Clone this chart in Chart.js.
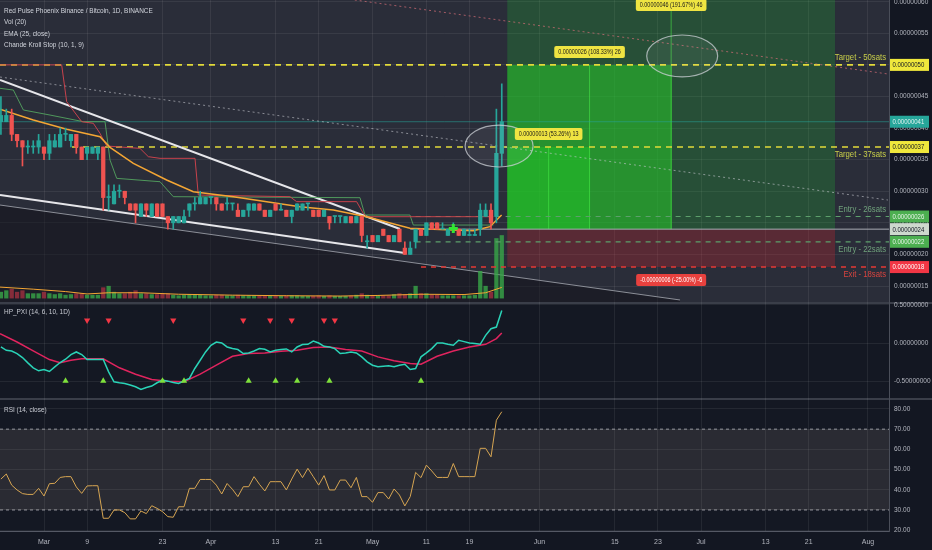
<!DOCTYPE html>
<html><head><meta charset="utf-8">
<script src="https://cdn.jsdelivr.net/npm/chart.js@4.4.1/dist/chart.umd.min.js"></script>
<style>
html,body{margin:0;padding:0;background:#131722;overflow:hidden}
#wrap{position:relative;width:932px;height:550px}
canvas{position:absolute;left:0;display:block}
</style></head><body>
<div id="wrap">
<canvas id="cMain" width="932" height="302" style="top:0;width:932px;height:302px"></canvas>
<canvas id="cHp" width="932" height="96" style="top:302px;width:932px;height:96px"></canvas>
<canvas id="cRsi" width="932" height="152" style="top:398px;width:932px;height:152px"></canvas>
</div>
<script>
const FONT = '"Liberation Sans", Arial, sans-serif';
Chart.defaults.font.family = FONT;

// ---------- axes ----------
const X_MIN = -8.17, X_MAX = 156.9;           // day index, 0 = 1 Mar
const xTickDays   = [0, 8, 22, 31, 43, 51, 61, 71, 79, 92, 106, 114, 122, 134, 142, 153];
const xTickLabels = ['Mar','9','23','Apr','13','21','May','11','19','Jun','15','23','Jul','13','21','Aug'];
const priceTicks = [15, 20, 25, 30, 35, 40, 45, 50, 55, 60];   // satoshis
const hpTicks = [0.5, 0, -0.5];
const rsiTicks = [20, 30, 40, 50, 60, 70, 80];

// ---------- candles (satoshis) ----------
const candleDays = [-8,-7,-6,-5,-4,-3,-2,-1,0,1,2,3,4,5,6,7,8,9,10,11,12,13,14,15,16,17,18,19,20,21,22,23,24,25,26,27,28,29,30,31,32,33,34,35,36,37,38,39,40,41,42,43,44,45,46,47,48,49,50,51,52,53,54,55,56,57,58,59,60,61,62,63,64,65,66,67,68,69,70,71,72,73,74,75,76,77,78,79,80,81,82,83,84,85];
const open  = [41,41,42,39,38,37,37,37,37,36, 37,37,39,38,39,37,36,36,36,37, 29,28,30,30,28,28,26,28,26,28, 28,26,25,25,25,27,28,28,28,29, 29,28,28,28,27,26,27,27,28,27, 26,28,27,27,26,27,27,28,27,27, 26,26,26,26,25,26,25,26,22,23, 22,24,23,22,24,21,20,22,24,23, 25,25,24,23,24,24,23,23,23,24, 26,27,26,36];
const high  = [45,43,43,39,38,38,38,39,37,39, 39,40,40,39,39,37,37,37,37,37, 31,31,31,30,28,28,28,28,28,28, 28,26,26,26,27,28,29,30,29,29, 29,28,29,28,28,27,28,28,28,27, 27,28,28,27,27,28,28,28,27,27, 27,26,26,26,26,26,26,26,23,23, 23,24,23,23,24,22,22,24,24,25, 25,25,25,24,25,24,24,24,24,28, 28,28,43,47];
const low   = [39,41,38,37,34,36,36,36,35,35, 37,37,38,37,36,35,35,36,35,27, 27,28,29,28,27,25,26,26,26,26, 26,24,24,25,25,26,27,28,28,28, 27,27,27,27,26,26,26,27,27,26, 26,27,27,26,25,27,27,27,26,26, 26,24,25,25,25,25,25,22,21,22, 22,23,22,22,22,20,20,21,23,23, 24,24,24,23,24,23,23,23,23,23, 26,24,25,34];
const close = [42,42,39,38,37,37,37,38,36,38, 38,39,39,39,37,35,37,37,37,29, 29,30,30,29,27,27,28,27,28,26, 26,25,26,26,26,28,28,29,29,29, 28,27,28,28,26,27,28,28,27,26, 27,27,27,26,27,28,28,28,26,26, 27,25,26,26,26,25,26,23,22,22, 23,23,22,23,22,20,21,24,23,25, 24,24,24,24,24,23,24,23,23,27, 27,25,36,41];
const volume = [2,2.5,3,2,2.5,1.5,1.5,1.5,2,1.5, 1.2,1.5,1,1.2,1.5,1.5,1,1,1,3.5, 4,2,1.5,1.5,2,2.5,1.5,1.5,1.2,1.2, 1.5,1.5,1,0.8,1,1.2,1,1,0.8,0.8, 1,1,0.8,0.8,1,0.8,0.8,0.8,0.8,0.8, 0.8,0.8,0.6,0.8,0.8,0.8,0.6,0.6,0.6,0.8, 0.6,0.8,0.6,0.6,0.6,0.8,1,1.5,1,0.8, 0.8,0.8,0.8,1.2,1.5,1.2,1.5,4,1.5,1.5, 1,1,0.8,0.8,0.8,0.8,0.8,0.8,1,9, 4,2,20,21];
const volMaDays = [-8.17,-2,4,8,12,18,25,35,45,55,62,70,78,82,85];
const volMa     = [3.7,3.0,2.2,1.4,1.8,1.8,1.3,1.0,0.8,0.7,0.9,1.3,1.2,1.8,3.6];

// ---------- EMA 25 / Chande Kroll Stop ----------
const emaDays = [-8.17,-1.98,4.21,10.40,12.26,16.59,22.77,27.73,35.16,41.35,47.53,53.72,59.91,67.95,72.28,79.71,82.80,84.97];
const ema     = [42.97,41.28,39.80,38.64,36.95,34.42,31.78,29.93,29.14,28.35,27.56,27.03,25.97,24.13,23.97,23.76,24.39,26.24];
const cksShortDays = [-8.17,3.28,4.21,7.00,9.16,10.40,11.64,17.82,19.37,21.54,28.04,28.65,45.67,46.91,58.05,59.29,59.91,83.43];
const cksShort     = [50,50,44.18,41.01,40.75,39.16,37.16,36.79,35.47,35.21,35.21,29.40,29.14,28.35,28.35,26.50,25.97,25.97];
const cksLongDays  = [-8.17,-5.69,-3.83,1.12,7.31,11.33,12.26,13.50,21.54,24.01,58.67,59.60,67.95,68.57,83.43];
const cksLong      = [46.29,46.02,42.86,42.06,41.01,41.01,34.94,32.04,31.51,29.14,28.98,26.24,26.24,24.65,24.65];

// ---------- HP_PXI ----------
const hpPxi = [-0.048,-0.091,-0.100,-0.134,-0.186,-0.255,-0.320,-0.359,-0.342,-0.368,
 -0.307,-0.251,-0.208,-0.147,-0.113,-0.147,-0.212,-0.212,-0.212,-0.212,
 -0.372,-0.502,-0.515,-0.524,-0.545,-0.567,-0.602,-0.576,-0.558,-0.515,
 -0.481,-0.494,-0.511,-0.524,-0.489,-0.459,-0.329,-0.221,-0.113,-0.026,
 0.017,0.004,-0.048,-0.069,-0.082,-0.134,-0.126,-0.100,-0.069,-0.078,
 -0.113,-0.091,-0.082,-0.074,-0.113,-0.048,-0.017,-0.013,0.030,0.004,
 -0.039,-0.048,-0.069,-0.134,-0.126,-0.113,-0.126,-0.177,-0.242,-0.286,
 -0.307,-0.299,-0.294,-0.307,-0.286,-0.273,-0.342,-0.329,-0.177,-0.126,
 -0.069,0.004,0.004,-0.013,-0.026,0.039,0.022,0.004,-0.004,-0.013,
 0.104,0.190,0.212,0.429];
const hpSigDays = [-8.17,-5,-2,1,3,5,7,11,14,17,20,23,26,29,32,35,38,41,44,47,50,53,56,59,62,65,68,70,73,76,79,82,84,85];
const hpSig     = [0.126,0.017,-0.100,-0.212,-0.255,-0.221,-0.203,-0.203,-0.320,-0.403,-0.472,-0.494,-0.502,-0.403,-0.286,-0.169,-0.134,-0.126,-0.104,-0.091,-0.056,-0.048,-0.082,-0.100,-0.177,-0.229,-0.264,-0.273,-0.169,-0.100,-0.048,-0.013,0.061,0.134];
const hpSellDays = [8, 12, 24, 37, 42, 46, 52, 54];
const hpBuyDays  = [4, 11, 22, 26, 38, 43, 47, 53, 70];

// ---------- RSI ----------
const rsi = [45.3,47.8,42.3,39.9,38.1,37.7,37.7,40.7,36.9,43.0,
 43.2,46.1,46.5,46.5,41.4,38.2,41.9,42.0,42.0,25.9,
 25.9,30.0,30.0,28.7,25.6,25.6,29.5,28.2,32.1,30.8,
 29.2,26.7,26.4,31.6,31.6,40.7,40.7,45.1,45.1,45.1,
 42.3,37.9,43.1,40.2,36.6,41.5,41.5,46.5,42.7,39.4,
 44.0,44.0,44.0,39.9,45.3,50.2,46.0,50.6,46.5,42.3,
 47.0,39.9,39.9,44.8,44.8,41.0,46.1,36.6,36.6,33.8,
 38.6,38.6,35.4,40.4,37.4,32.0,36.6,48.6,46.0,52.2,
 49.3,46.1,46.1,46.1,53.0,46.5,46.5,46.5,46.5,60.5,
 60.5,56.3,74.4,78.6];
const rsiBands = [70, 30];

// ---------- drawings ----------
const levelValues    = [50, 37, 26, 22, 18, 24, 41];
const levelStartDays = [-8.17, 5.2, 69, 69, 70, 68, -8.17];
const wedgeUpper  = [[-8.17, 47.61], [66.1, 24.03]];
const wedgeLower  = [[-8.17, 29.41], [67.0, 20.23]];
const channelLine = [[-8.17, 27.82], [118.1, 12.79]];
const dottedGray  = [[-8.17, 48.08], [156.7, 28.61]];
const dottedRed   = [[57.7, 60.27], [156.7, 48.56]];
const crossMark   = [[76, 24.1]];
const posEntry = 24, posStop = 18, posStart = 86.0;
const posTargets = [37, 50, 70];
const posEnds    = [101.4, 116.6, 146.9];
const posLabels  = ['0.00000013 (53.26%) 13', '0.00000026 (108.33%) 26', '0.00000046 (191.67%) 46'];
const stopLabel  = '-0.00000006 (-25.00%) -6';
const ellipseCenters = [[84.5, 37.16], [118.5, 51.41]];
const ellipseRadii   = [[6.31, 3.32], [6.59, 3.32]];
const sideLabels = [['Target - 50sats', 50, -1], ['Target - 37sats', 37, 1], ['Entry - 26sats', 26, -1], ['Entry - 22sats', 22, 1], ['Exit - 18sats', 18, 1]];
const badgeValues = [50, 41, 37, 26, 22, 24, 18];
const legendLines = ['Red Pulse Phoenix Binance / Bitcoin, 1D, BINANCE', 'Vol (20)', 'EMA (25, close)', 'Chande Kroll Stop (10, 1, 9)'];

// ---------- helpers ----------
const UP = '#26a69a', DN = '#ef5350';
const isUp = candleDays.map((_, i) => close[i] >= open[i]);
const pts = (xs, ys) => xs.map((x, i) => ({x, y: ys[i]}));
const seg = a => a.map(([x, y]) => ({x, y}));
const lineDs = (data, color, width, extra) => Object.assign({type: 'line', data, borderColor: color, borderWidth: width, pointRadius: 0, fill: false, tension: 0, yAxisID: 'y'}, extra || {});

function drawText(ctx, s, x, y, size, color, align, sx) {
  ctx.save();
  ctx.font = size + 'px ' + FONT;
  ctx.fillStyle = color; ctx.textAlign = align || 'left'; ctx.textBaseline = 'middle';
  ctx.translate(x, y); ctx.scale(sx || 0.86, 1); ctx.fillText(s, 0, 0);
  ctx.restore();
}
function textW(ctx, s, size, sx) { ctx.save(); ctx.font = size + 'px ' + FONT; const w = ctx.measureText(s).width * (sx || 0.86); ctx.restore(); return w; }
function tag(ctx, s, cx, top, bg, fg, size) {
  const w = textW(ctx, s, size) + 8, h = 12;
  ctx.save(); ctx.fillStyle = bg; ctx.beginPath(); ctx.roundRect(cx - w / 2, top, w, h, 2); ctx.fill(); ctx.restore();
  drawText(ctx, s, cx, top + h / 2 + 0.5, size, fg, 'center');
}

function xAxis(showLabels) {
  return {
    type: 'linear', min: X_MIN, max: X_MAX, offset: false, bounds: 'data',
    grid: {color: 'rgba(255,255,255,0.07)', drawTicks: false, offset: false},
    border: {display: false},
    ticks: {display: showLabels, autoSkip: false, maxRotation: 0, padding: 7, color: '#b2b5be', font: {size: 7},
      callback: (v, i) => xTickLabels[i]},
    afterBuildTicks: s => { s.ticks = xTickDays.map(v => ({value: v})); },
    afterFit: s => { s.height = showLabels ? 19 : 0; s.paddingLeft = 0; s.paddingRight = 0; }
  };
}
function yAxis(min, max, ticks, fmt, gridColor) {
  return {
    type: 'linear', position: 'right', min, max, bounds: 'data',
    grid: {color: gridColor || 'rgba(255,255,255,0.07)', drawTicks: false},
    border: {display: true, color: '#4a4e59'},
    ticks: {autoSkip: false, padding: 5, color: '#b2b5be', font: {size: 6.5}, callback: fmt},
    afterBuildTicks: s => { s.ticks = ticks.map(v => ({value: v})); },
    afterFit: s => { s.width = 43; s.paddingTop = 0; s.paddingBottom = 0; }
  };
}
const baseOpts = {responsive: false, animation: false, events: [], layout: {padding: 0, autoPadding: false},
  plugins: {legend: {display: false}, tooltip: {enabled: false}}};

function paneBg(color, title, titleY, sepTop, sepBottom) {
  return {
    id: 'bg',
    beforeDraw(chart) {
      const {ctx, chartArea: a, width, height} = chart;
      ctx.save();
      ctx.fillStyle = '#131722'; ctx.fillRect(0, 0, width, height);
      ctx.fillStyle = color; ctx.fillRect(a.left, a.top, a.right - a.left, a.bottom - a.top);
      if (sepTop) { ctx.fillStyle = '#3a3e49'; ctx.fillRect(0, 0, width, 2); }
      ctx.restore();
    },
    afterDraw(chart) {
      const {ctx, chartArea: a} = chart;
      if (sepBottom) { ctx.save(); ctx.fillStyle = '#555965'; ctx.fillRect(0, a.bottom, a.right, 1); ctx.restore(); }
      if (title) drawText(ctx, title, 4, titleY, 7.5, '#c8cbd3', 'left');
    }
  };
}

// ---------- main chart ----------
const levelStyles = [
  {c: '#e2da3a', w: 1.6, d: [6, 5]}, {c: '#e2da3a', w: 1.6, d: [6, 5]},
  {c: '#5c9f6b', w: 1.2, d: [5, 5]}, {c: '#5c9f6b', w: 1.2, d: [5, 5]},
  {c: '#e53935', w: 1.4, d: [5, 5]}, {c: '#a9acb4', w: 1, d: []}, {c: 'rgba(38,166,154,0.55)', w: 1, d: []}
];
const boxFills = ['rgba(20,210,20,0.45)', 'rgba(40,200,40,0.55)', 'rgba(30,200,50,0.22)'];

const mainDatasets = [
  {type: 'bar', data: candleDays.map((d, i) => ({x: d, y: [open[i], close[i]]})), backgroundColor: isUp.map(u => u ? UP : DN), barThickness: 3.6, minBarLength: 1, grouped: false, order: 10, yAxisID: 'y'},
  {type: 'bar', data: candleDays.map((d, i) => ({x: d, y: [low[i], high[i]]})), backgroundColor: isUp.map(u => u ? UP : DN), barThickness: 1, grouped: false, order: 11, yAxisID: 'y'},
  lineDs(seg(crossMark), '#33e633', 0, {showLine: false, pointStyle: 'cross', pointRadius: 4.5, pointBorderWidth: 3, pointBorderColor: '#33e633', order: 5}),
  lineDs(pts(emaDays, ema), '#f4a634', 1.5, {order: 30}),
  lineDs(pts(cksShortDays, cksShort), '#c8424c', 1, {order: 32}),
  lineDs(pts(cksLongDays, cksLong), 'rgba(86,170,98,0.85)', 1, {order: 33}),
  lineDs(seg(wedgeUpper), '#e6e6ea', 2, {order: 40}),
  lineDs(seg(wedgeLower), '#e6e6ea', 2, {order: 41}),
  lineDs(seg(dottedGray), 'rgba(200,202,208,0.6)', 1, {borderDash: [2, 3], order: 42}),
  lineDs(seg(dottedRed), 'rgba(215,110,120,0.7)', 1, {borderDash: [2, 3], order: 43}),
  ...levelValues.map((v, i) => lineDs([{x: levelStartDays[i], y: v}, {x: X_MAX, y: v}], levelStyles[i].c, levelStyles[i].w, {borderDash: levelStyles[i].d, order: 50 + i})),
  ...posEnds.map((e, i) => lineDs([{x: (posStart + e) / 2, y: posEntry}, {x: (posStart + e) / 2, y: posTargets[i]}], 'rgba(70,230,70,0.6)', 1, {order: 65})),
  lineDs(pts(volMaDays, volMa), '#f4a634', 1, {yAxisID: 'yVol', order: 70}),
  {type: 'bar', data: candleDays.map((d, i) => ({x: d, y: volume[i]})), backgroundColor: isUp.map(u => u ? 'rgba(56,168,72,0.8)' : 'rgba(170,50,65,0.75)'), barThickness: 3.6, grouped: false, order: 72, yAxisID: 'yVol'},
  lineDs([{x: posStart, y: posStop}, {x: posEnds[2], y: posStop}], 'rgba(0,0,0,0)', 1, {fill: {value: posEntry}, backgroundColor: 'rgba(200,35,45,0.3)', order: 80}),
  ...posTargets.map((t, i) => lineDs([{x: posStart, y: t}, {x: posEnds[i], y: t}], 'rgba(0,0,0,0)', 1, {fill: {value: posEntry}, backgroundColor: boxFills[i], order: 83 - i})),
  lineDs(seg(channelLine), '#8c8f98', 1, {fill: 'start', backgroundColor: 'rgba(10,12,18,0.45)', order: 100})
];

const mainOverlay = {
  id: 'mainOverlay',
  afterDraw(chart) {
    const {ctx, chartArea: a, scales: {x, y}} = chart;
    ctx.save();
    ctx.beginPath(); ctx.rect(0, 0, a.right, a.bottom); ctx.clip();
    ellipseCenters.forEach(([cx, cy], i) => {
      const px = x.getPixelForValue(cx), py = y.getPixelForValue(cy);
      const rx = Math.abs(x.getPixelForValue(cx + ellipseRadii[i][0]) - px);
      const ry = Math.abs(y.getPixelForValue(cy + ellipseRadii[i][1]) - py);
      ctx.beginPath(); ctx.ellipse(px, py, rx, ry, 0, 0, Math.PI * 2);
      ctx.fillStyle = 'rgba(210,215,220,0.07)'; ctx.fill();
      ctx.strokeStyle = 'rgba(205,210,215,0.75)'; ctx.lineWidth = 1.2; ctx.stroke();
    });
    posTargets.forEach((t, i) => {
      const cx = x.getPixelForValue((posStart + posEnds[i]) / 2);
      const top = Math.max(y.getPixelForValue(t) - 19, -1);
      tag(ctx, posLabels[i], cx, top, '#efe442', '#1a1a1a', 6.3);
    });
    tag(ctx, stopLabel, x.getPixelForValue((posStart + posEnds[2]) / 2), y.getPixelForValue(posStop) + 7, '#e8413e', '#ffffff', 6.3);
    sideLabels.forEach(([s, v, dir]) => {
      const col = s.startsWith('Target') ? '#c9cf4a' : s.startsWith('Entry') ? '#6fa07b' : '#d9443f';
      drawText(ctx, s, 886, y.getPixelForValue(v) + dir * 7.5, 9, col, 'right');
    });
    legendLines.forEach((s, i) => drawText(ctx, s, 4, [10.5, 22, 33.5, 44.5][i], 7.5, '#d1d4dc', 'left'));
    ctx.restore();
    badgeValues.forEach(v => {
      const py = y.getPixelForValue(v);
      let bg = '#4caf50', fg = '#e8f5e9';
      if (v === 50 || v === 37) { bg = '#f0e83c'; fg = '#131722'; }
      else if (v === 41) { bg = '#26a69a'; fg = '#e0f2f1'; }
      else if (v === 24) { bg = '#cdd8cd'; fg = '#131722'; }
      else if (v === 18) { bg = '#f23645'; fg = '#ffffff'; }
      ctx.save(); ctx.fillStyle = bg; ctx.fillRect(890, py - 6, 39, 12); ctx.restore();
      drawText(ctx, (v / 1e8).toFixed(8), 892.5, py + 0.5, 7, fg, 'left');
    });
  }
};

new Chart(document.getElementById('cMain'), {
  type: 'line',
  data: {datasets: mainDatasets},
  options: Object.assign({}, baseOpts, {
    scales: {
      x: xAxis(false),
      y: yAxis(12.47, 60.27, priceTicks, v => (v / 1e8).toFixed(8), 'rgba(255,255,255,0.065)'),
      yVol: {type: 'linear', display: false, min: -1.3, max: 100}
    }
  }),
  plugins: [paneBg('#2a2d39', null, 0, false, false), mainOverlay]
});

// ---------- HP_PXI chart ----------
new Chart(document.getElementById('cHp'), {
  type: 'line',
  data: {datasets: [
    lineDs(pts(candleDays, hpPxi), '#2ad3b7', 1.5, {order: 1}),
    lineDs(pts(hpSigDays, hpSig), '#e0245e', 1.5, {order: 2}),
    lineDs(hpSellDays.map(d => ({x: d, y: 0.30})), '#f23645', 0, {showLine: false, pointStyle: 'triangle', pointRotation: 180, pointRadius: 3.6, pointBackgroundColor: '#f23645', pointBorderWidth: 0, order: 0}),
    lineDs(hpBuyDays.map(d => ({x: d, y: -0.49})), '#7ee03c', 0, {showLine: false, pointStyle: 'triangle', pointRadius: 3.6, pointBackgroundColor: '#7ee03c', pointBorderWidth: 0, order: 0})
  ]},
  options: Object.assign({}, baseOpts, {
    scales: {x: xAxis(false), y: yAxis(-0.714, 0.539, hpTicks, v => v.toFixed(8))}
  }),
  plugins: [paneBg('#141823', 'HP_PXI (14, 6, 10, 1D)', 10, true, false)]
});

// ---------- RSI chart ----------
new Chart(document.getElementById('cRsi'), {
  type: 'line',
  data: {datasets: [
    lineDs(pts(candleDays, rsi), '#d6a552', 1, {order: 1}),
    lineDs([{x: X_MIN, y: rsiBands[0]}, {x: X_MAX, y: rsiBands[0]}], 'rgba(200,200,205,0.7)', 1, {borderDash: [3, 3], fill: {value: rsiBands[1]}, backgroundColor: 'rgba(190,180,160,0.13)', order: 5}),
    lineDs([{x: X_MIN, y: rsiBands[1]}, {x: X_MAX, y: rsiBands[1]}], 'rgba(200,200,205,0.7)', 1, {borderDash: [3, 3], order: 4})
  ]},
  options: Object.assign({}, baseOpts, {
    scales: {x: xAxis(true), y: yAxis(19.6, 85.4, rsiTicks, v => v.toFixed(2))}
  }),
  plugins: [paneBg('#141823', 'RSI (14, close)', 12, true, true)]
});
</script>
</body></html>
